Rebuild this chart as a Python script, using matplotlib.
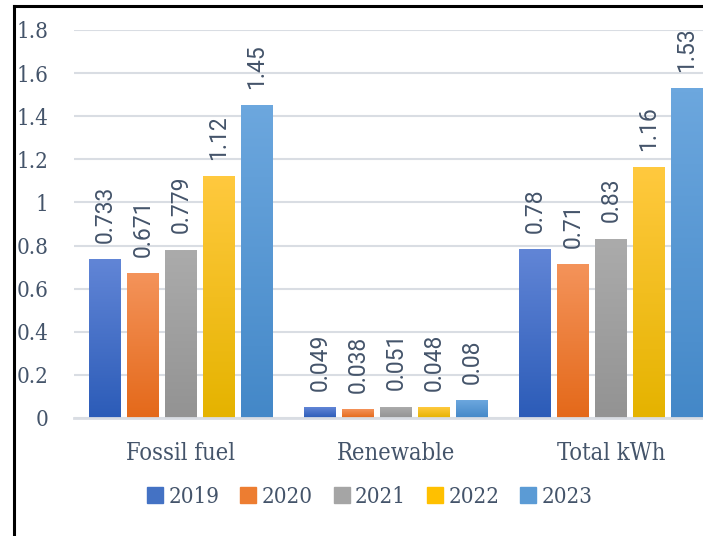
import matplotlib
matplotlib.use("Agg")
import matplotlib.pyplot as plt
import numpy as np
from matplotlib.lines import Line2D
from matplotlib.colors import LinearSegmentedColormap
from matplotlib import font_manager as fm

categories = ["Fossil fuel", "Renewable", "Total kWh"]
years = ["2019", "2020", "2021", "2022", "2023"]
v2019 = [0.733, 0.049, 0.78]
v2020 = [0.671, 0.038, 0.71]
v2021 = [0.779, 0.051, 0.83]
v2022 = [1.12, 0.048, 1.16]
v2023 = [1.45, 0.08, 1.53]
labels2019 = ["0.733", "0.049", "0.78"]
labels2020 = ["0.671", "0.038", "0.71"]
labels2021 = ["0.779", "0.051", "0.83"]
labels2022 = ["1.12", "0.048", "1.16"]
labels2023 = ["1.45", "0.08", "1.53"]
yticks = [0, 0.2, 0.4, 0.6, 0.8, 1.0, 1.2, 1.4, 1.6, 1.8]
yticklabels = ["0", "0.2", "0.4", "0.6", "0.8", "1", "1.2", "1.4", "1.6", "1.8"]

series = [v2019, v2020, v2021, v2022, v2023]
series_labels = [labels2019, labels2020, labels2021, labels2022, labels2023]
grads = [("#6185D6", "#2C5CB8", "#4472C4"),
         ("#F4935A", "#E4691A", "#ED7D31"),
         ("#ABABAB", "#939393", "#A5A5A5"),
         ("#FFC93E", "#E5B300", "#FFC000"),
         ("#6CA7DE", "#4488C8", "#5B9BD5")]

serif = fm.FontProperties(family="DejaVu Serif", stretch="condensed")
has_cond = "Condensed" in fm.findfont(serif)

def sfont(size):
    if has_cond:
        return fm.FontProperties(family="DejaVu Serif", stretch="condensed", size=size)
    return fm.FontProperties(family="DejaVu Serif", size=size * 0.9)

text_color = "#44546A"
W, H = 703, 536
fig = plt.figure(figsize=(W / 100, H / 100), dpi=100)
ax = fig.add_axes([73.5 / W, 118 / H, 645 / W, 388 / H])

x = np.arange(len(categories))
step = 38 / 215
width = 32 / 215
for i, (vals, labs, (ct, cb, cm)) in enumerate(zip(series, series_labels, grads)):
    offs = (i - 2) * step
    bars = ax.bar(x + offs, vals, width=width, color=cm, zorder=2)
    cmap = LinearSegmentedColormap.from_list("g%d" % i, [cb, ct])
    grad = np.linspace(0, 1, 64).reshape(-1, 1)
    for b, lab in zip(bars, labs):
        bx, bw, bh = b.get_x(), b.get_width(), b.get_height()
        ax.imshow(grad, extent=(bx, bx + bw, 0, bh), origin="lower",
                  cmap=cmap, aspect="auto", zorder=3, interpolation="bilinear")
        ax.annotate(lab, (bx + bw / 2, bh), xytext=(0, 12), textcoords="offset points",
                    rotation=90, ha="center", va="bottom", fontsize=16.5,
                    family="Roboto", color=text_color)

ax.set_xlim(-0.5, 2.5)
ax.set_ylim(0, 1.8)
ax.set_yticks(yticks)
ax.set_yticklabels(yticklabels, fontproperties=sfont(16), color=text_color)
ax.set_xticks(x)
ax.set_xticklabels(categories, fontproperties=sfont(17), color=text_color)
ax.tick_params(axis="y", length=0, pad=18)
ax.tick_params(axis="x", length=0, pad=17)
ax.grid(axis="y", color="#D9DDE3", linewidth=1.5, zorder=0)
ax.set_axisbelow(True)
for s in ["top", "right", "left"]:
    ax.spines[s].set_visible(False)
ax.spines["bottom"].set_color("#D9DDE3")
ax.spines["bottom"].set_linewidth(2)
ax.spines["bottom"].set_zorder(4)

handles = [Line2D([], [], marker="s", linestyle="none", markersize=11.5,
                  markerfacecolor=g[2], markeredgecolor=g[2]) for g in grads]
leg = fig.legend(handles, years, loc="center", bbox_to_anchor=(370 / W, 39 / H),
                 ncol=5, frameon=False, handlelength=0.7, handletextpad=0.25,
                 columnspacing=0.95, prop=sfont(16))
for t in leg.get_texts():
    t.set_color(text_color)

fig.add_artist(Line2D([13.5 / W, 13.5 / W], [0, 1 - 6 / H], color="black", lw=2.2,
                      transform=fig.transFigure))
fig.add_artist(Line2D([13.5 / W, 1], [1 - 6 / H, 1 - 6 / H], color="black", lw=2.2,
                      transform=fig.transFigure))

fig.savefig("out.png", dpi=100)
